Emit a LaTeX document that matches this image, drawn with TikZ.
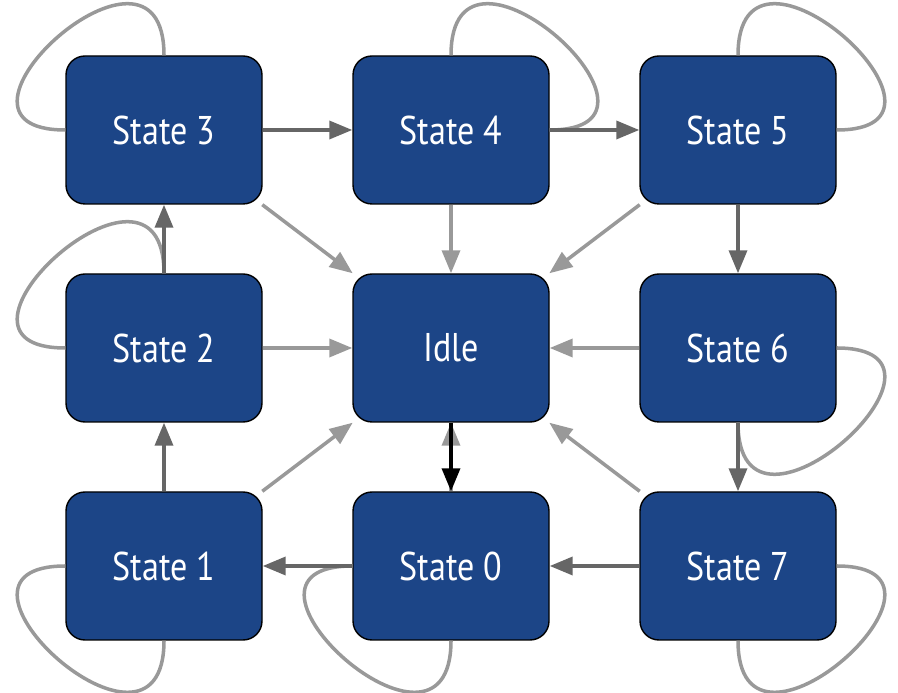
\documentclass[tikz,border=0pt]{standalone}
\usepackage{fontspec}
\setmainfont[FakeStretch=0.85]{PT Sans}
\usetikzlibrary{arrows.meta}

\definecolor{stateblue}{HTML}{1C4587}
\definecolor{lightedge}{HTML}{999999}
\definecolor{darkedge}{HTML}{666666}

\begin{document}
\begin{tikzpicture}[
    state/.style={draw=black, line width=0.8pt, fill=stateblue, rounded corners=0.38cm,
        minimum width=3.92cm, minimum height=2.96cm, text=white,
        font=\fontsize{22.8}{26}\selectfont},
    toidle/.style={lightedge, line width=2pt, -{Triangle[length=0.46cm,width=0.36cm]}},
    cycle/.style={darkedge, line width=2pt, -{Triangle[length=0.46cm,width=0.36cm]}},
    selfloop/.style={lightedge, line width=2pt}
]

    \useasboundingbox (0,0) rectangle (17.96,13.86);

    % Draw the states
    \node[state] (S3) at (3.28,11.26) {State 3};
    \node[state] (S4) at (9.02,11.26) {State 4};
    \node[state] (S5) at (14.76,11.26) {State 5};
    \node[state] (S2) at (3.28,6.90) {State 2};
    \node[state] (Idle) at (9.02,6.90) {Idle};
    \node[state] (S6) at (14.76,6.90) {State 6};
    \node[state] (S1) at (3.28,2.54) {State 1};
    \node[state] (S0) at (9.02,2.54) {State 0};
    \node[state] (S7) at (14.76,2.54) {State 7};

    % Self loops
    \draw[selfloop] (S3.west) .. controls +(-3,0) and +(0,3) .. (S3.north);
    \draw[selfloop] (S4.north) .. controls +(0,3) and +(3,0) .. (S4.east);
    \draw[selfloop] (S5.north) .. controls +(0,3) and +(3,0) .. (S5.east);
    \draw[selfloop] (S2.west) .. controls +(-3,0) and +(0,3) .. (S2.north);
    \draw[selfloop] (S6.east) .. controls +(3,0) and +(0,-3) .. (S6.south);
    \draw[selfloop] (S1.west) .. controls +(-3,0) and +(0,-3) .. (S1.south);
    \draw[selfloop] (S0.west) .. controls +(-3,0) and +(0,-3) .. (S0.south);
    \draw[selfloop] (S7.east) .. controls +(3,0) and +(0,-3) .. (S7.south);

    % Every state falls back to Idle
    \draw[toidle] (S3) -- (Idle);
    \draw[toidle] (S4) -- (Idle);
    \draw[toidle] (S5) -- (Idle);
    \draw[toidle] (S2) -- (Idle);
    \draw[toidle] (S6) -- (Idle);
    \draw[toidle] (S1) -- (Idle);
    \draw[toidle] (S7) -- (Idle);
    \draw[toidle] (S0) -- (Idle);

    % The ring of states
    \draw[cycle] (S7) -- (S0);
    \draw[cycle] (S0) -- (S1);
    \draw[cycle] (S1) -- (S2);
    \draw[cycle] (S2) -- (S3);
    \draw[cycle] (S3) -- (S4);
    \draw[cycle] (S4) -- (S5);
    \draw[cycle] (S5) -- (S6);
    \draw[cycle] (S6) -- (S7);

    % Start from Idle
    \draw[black, line width=2pt, -{Triangle[length=0.46cm,width=0.36cm]}] (Idle) -- (S0);

\end{tikzpicture}
\end{document}
